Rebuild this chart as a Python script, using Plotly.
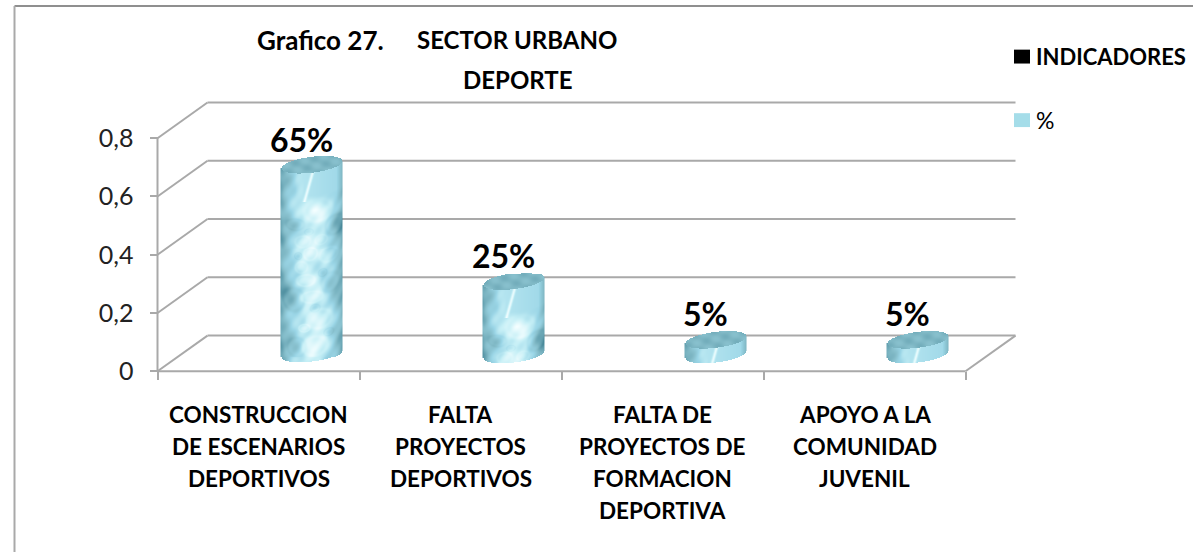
import numpy as np
import plotly.graph_objects as go

categories = [
    ["CONSTRUCCION", "DE ESCENARIOS", "DEPORTIVOS"],
    ["FALTA", "PROYECTOS", "DEPORTIVOS"],
    ["FALTA DE", "PROYECTOS DE", "FORMACION", "DEPORTIVA"],
    ["APOYO A LA", "COMUNIDAD", "JUVENIL"],
]
values = [0.65, 0.25, 0.05, 0.05]
value_labels = ["65%", "25%", "5%", "5%"]
y_ticks = [0, 0.2, 0.4, 0.6, 0.8]
y_tick_labels = ["0", "0,2", "0,4", "0,6", "0,8"]
title_parts = ["Grafico 27.", "SECTOR URBANO", "DEPORTE"]
legend_items = ["INDICADORES", "%"]

W, H = 1193, 556
GRAY = "#a9a9a9"
FONT = "Lato"
PX_X, PX_Y = 202.0, 293.5
X0_PX, Y0_PX = 258.5, 374.0
L_PX, R_PX, T_PX, B_PX = 147, 1026, 92, 384
DEPTH_X, DEPTH_Y = 50 / PX_X, 36 / PX_Y
CYL_X = 53 / PX_X
CYL_Y = 17 / PX_Y
A, B, S = 30.5, 8.0, 0.12
TEX_H = 190.0

xrange_ = [(L_PX - X0_PX) / PX_X, (R_PX - X0_PX) / PX_X]
yrange_ = [(Y0_PX - B_PX) / PX_Y, (Y0_PX - T_PX) / PX_Y]

colorscale = [[0, "#4a8a9b"], [0.3, "#84bcc9"], [0.5, "#9ad5e6"], [0.72, "#c6eff6"], [1, "#f4feff"]]

blobs = [
    (0.2, 0.2, 0.45, 0.06, 0.3), (0.75, 0.3, 0.3, 0.05, -0.2), (-0.55, 0.27, 0.3, 0.03, -0.14),
    (-0.05, 0.43, 0.22, 0.035, 0.22), (-0.3, 0.36, 0.25, 0.03, 0.14), (0.55, 0.45, 0.3, 0.04, 0.16),
    (-0.6, 0.67, 0.35, 0.06, -0.22), (0.25, 0.78, 0.4, 0.05, 0.22), (0.6, 0.6, 0.3, 0.05, -0.14),
    (-0.2, 0.57, 0.3, 0.03, 0.2), (0.1, 0.92, 0.4, 0.05, 0.2), (-0.5, 0.92, 0.3, 0.05, -0.18),
    (0.0, 0.66, 0.35, 0.03, 0.16), (-0.35, 0.5, 0.2, 0.03, 0.15), (0.3, 0.36, 0.2, 0.025, 0.12),
    (-0.45, 0.44, 0.12, 0.018, -0.14), (0.35, 0.54, 0.14, 0.02, -0.14), (-0.1, 0.31, 0.14, 0.016, -0.12),
    (0.1, 0.72, 0.16, 0.02, -0.13), (-0.25, 0.82, 0.18, 0.02, 0.18), (0.55, 0.86, 0.16, 0.02, -0.14),
]


def body_shade(u, v):
    t = 0.2 + 0.5 * (1 - np.abs(u) ** 2.0)
    t = t + 0.05 * np.sin(22 * v + 3 * u) + 0.045 * np.sin(9 * u - 31 * v) + 0.04 * np.sin(14 * u + 67 * v)
    for bu, bv, ru, rv, amt in blobs:
        d = ((u - bu) / ru) ** 2 + ((v - bv) / rv) ** 2
        t = t + amt * np.exp(-d) + 0.3 * amt * np.exp(-((np.sqrt(d) - 1) / 0.2) ** 2)
    sky = np.clip((0.2 - v) / 0.08, 0, 1) * np.clip((u + 0.55) / 0.3, 0, 1)
    shaded = np.clip((1.02 - np.abs(u)) / 0.22, 0, 1)
    skyval = (0.6 - 0.08 * u) * shaded + 0.22 * (1 - shaded)
    t = t * (1 - sky) + skyval * sky
    streak = np.exp(-(((u - (0.02 - 1.8 * v)) / 0.05) ** 2)) * (v < 0.15)
    t = t + streak * 0.32
    return np.clip(t, 0, 1)


def cylinder(i, value):
    h = value * PX_Y
    xc = i + CYL_X
    dxs = np.arange(-A, A + 1, 1.0)
    pys = np.arange(-B - 6, h + B + 6, 1.0)
    dx, py = np.meshgrid(dxs, pys)
    u = np.clip(dx / A, -1, 1)
    half = B * np.sqrt(1 - u ** 2)
    mid = S * dx
    v = np.clip((h + mid - half - py) / TEX_H, 0, 1)
    z = body_shade(u, v)
    cap = 0.27 + 0.035 * np.sin(0.22 * dx + 0.5 * py) + 0.025 * np.sin(0.4 * dx - 0.3 * py)
    in_cap = py >= h + mid - half
    z = np.where(in_cap, cap, z)
    inside = (np.abs(dx) <= A) & (py >= mid - half) & (py <= h + mid + half)
    z = np.round(z, 3).astype(object)
    z[~inside] = None
    return go.Heatmap(
        x=np.round(xc + dxs / PX_X, 5).tolist(),
        y=np.round(CYL_Y + pys / PX_Y, 5).tolist(),
        z=z.tolist(),
        zmin=0, zmax=1, colorscale=colorscale, showscale=False, hoverinfo="skip", zsmooth=False,
    )


fig = go.Figure()
for i, val in enumerate(values):
    fig.add_trace(cylinder(i, val))

x_left, x_right = -0.5, len(categories) - 0.5
shapes = []
for t in y_ticks:
    shapes.append(dict(type="line", xref="x", yref="y", x0=x_left, y0=t, x1=x_left + DEPTH_X, y1=t + DEPTH_Y))
    shapes.append(dict(type="line", xref="x", yref="y", x0=x_left + DEPTH_X, y0=t + DEPTH_Y,
                       x1=x_right + DEPTH_X, y1=t + DEPTH_Y))
shapes.append(dict(type="line", xref="x", yref="y", x0=x_left, y0=0, x1=x_right, y1=0))
shapes.append(dict(type="line", xref="x", yref="y", x0=x_right, y0=0, x1=x_right + DEPTH_X, y1=DEPTH_Y))
shapes.append(dict(type="line", xref="x", yref="y", x0=x_left, y0=0, x1=x_left, y1=y_ticks[-1]))
for s in shapes:
    s.update(layer="below", line=dict(color=GRAY, width=2))

frame = "#8f8f8f"
shapes.append(dict(type="line", xref="paper", yref="paper", x0=14.5 / W, x1=1, y0=1 - 6 / H, y1=1 - 6 / H,
                   line=dict(color=frame, width=2)))
shapes.append(dict(type="line", xref="paper", yref="paper", x0=14.5 / W, x1=14.5 / W, y0=0, y1=1 - 6 / H,
                   line=dict(color=GRAY, width=2)))
shapes.append(dict(type="rect", xref="paper", yref="paper", x0=1014 / W, x1=1030 / W, y0=1 - 64 / H, y1=1 - 50 / H,
                   fillcolor="#000000", line=dict(width=0)))
shapes.append(dict(type="rect", xref="paper", yref="paper", x0=1014 / W, x1=1030 / W, y0=1 - 128 / H, y1=1 - 114 / H,
                   fillcolor="#a5dde9", line=dict(width=0)))

ann = []


def text(x, y, s, size, bold=True, anchor="center"):
    ann.append(dict(xref="paper", yref="paper", x=x / W, y=1 - y / H, text=f"<b>{s}</b>" if bold else s,
                    showarrow=False, xanchor=anchor, yanchor="middle", align=anchor,
                    font=dict(family=FONT, size=size, color="#000000")))


text(320, 40, title_parts[0], 26)
text(517, 40, title_parts[1], 24)
text(517, 80, title_parts[2], 24)
text(1034, 57, legend_items[0], 22, anchor="left")
text(1034, 121, legend_items[1], 23, bold=False, anchor="left")

for i, lines in enumerate(categories):
    for j, line in enumerate(lines):
        ann.append(dict(xref="x", yref="paper", x=i, y=1 - (417 + 32.5 * j) / H, text=f"<b>{line}</b>",
                        showarrow=False, xanchor="center", yanchor="middle",
                        font=dict(family=FONT, size=22.5, color="#000000")))

for i, (val, lab) in enumerate(zip(values, value_labels)):
    ann.append(dict(xref="x", yref="y", x=i + CYL_X, y=val + CYL_Y, text=f"<b>{lab}</b>", showarrow=False,
                    xanchor="center", yanchor="middle", xshift=-10, yshift=26,
                    font=dict(family=FONT, size=32, color="#000000")))

fig.update_layout(
    width=W, height=H, margin=dict(l=0, r=0, t=0, b=0), paper_bgcolor="#ffffff", plot_bgcolor="rgba(0,0,0,0)",
    showlegend=False, shapes=shapes, annotations=ann,
    xaxis=dict(domain=[L_PX / W, R_PX / W], range=xrange_, anchor="free", position=1 - Y0_PX / H,
               tickmode="array", tickvals=[x_left + k for k in range(len(categories) + 1)],
               ticktext=[""] * (len(categories) + 1), ticks="outside", ticklen=8, tickwidth=2, tickcolor=GRAY,
               showgrid=False, zeroline=False, showline=False),
    yaxis=dict(domain=[1 - B_PX / H, 1 - T_PX / H], range=yrange_, anchor="free", position=157.5 / W,
               tickmode="array", tickvals=y_ticks, ticktext=y_tick_labels, ticks="outside", ticklen=8, tickwidth=2,
               tickcolor=GRAY, showgrid=False, zeroline=False, showline=False, ticklabelstandoff=11,
               tickfont=dict(family=FONT, size=25, color="#222222")),
)

fig.write_html("out.html", config={"displayModeBar": False}, post_script="document.body.style.margin='0';")
